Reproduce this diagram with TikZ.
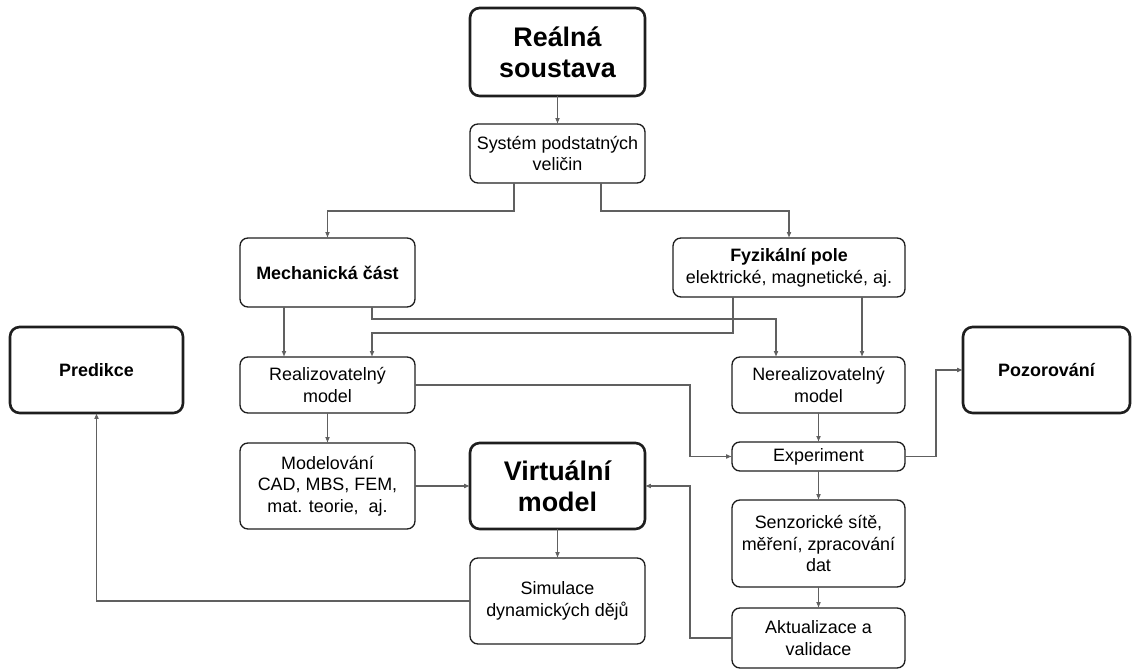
\documentclass[tikz,border=0pt]{standalone}
\usepackage{fontspec}
\setmainfont{Liberation Sans}
\usetikzlibrary{arrows.meta}
\definecolor{edge}{HTML}{1E1E1E}
\definecolor{wire}{HTML}{606060}
\begin{document}
\begin{tikzpicture}[x=0.02cm,y=-0.02cm,
  box/.style={draw=edge,line width=0.75pt,rounded corners=4.5pt,inner sep=0pt,outer sep=0pt,
    align=center,text=black,font=\fontsize{10.2}{12.3}\selectfont},
  bigbox/.style={box,line width=1.5pt,rounded corners=5.5pt},
  bigtext/.style={font=\fontsize{15.3}{17.8}\selectfont\bfseries},
  smalltitle/.style={font=\fontsize{10.2}{12.3}\selectfont\bfseries},
  conn/.style={draw=wire,line width=0.6pt,-{Latex[length=3.4pt,width=2.8pt]}}]
\useasboundingbox (0,0) rectangle (1133,671);

% boxes
\node[bigbox,bigtext,minimum width=3.5cm,minimum height=1.76cm] (real) at (557.5,52) {Reálná\\soustava};
\node[box,minimum width=3.5cm,minimum height=1.18cm] (sys) at (557.5,153.5) {Systém podstatných\\veličin};
\node[box,smalltitle,minimum width=3.5cm,minimum height=1.38cm] (mech) at (327.5,272.5) {Mechanická část};
\node[box,minimum width=4.64cm,minimum height=1.18cm] (fyz) at (789,267.5) {\textbf{Fyzikální pole}\\elektrické, magnetické, aj.};
\node[bigbox,smalltitle,minimum width=3.46cm,minimum height=1.72cm] (pred) at (96.5,370) {Predikce};
\node[box,minimum width=3.5cm,minimum height=1.12cm] (realiz) at (327.5,385) {Realizovatelný\\model};
\node[box,minimum width=3.46cm,minimum height=1.12cm] (nereal) at (818.5,385) {Nerealizovatelný\\model};
\node[bigbox,smalltitle,minimum width=3.34cm,minimum height=1.72cm] (poz) at (1046.5,370) {Pozorování};
\node[box,minimum width=3.46cm,minimum height=0.58cm] (exper) at (818.5,456.5) {Experiment};
\node[box,minimum width=3.5cm,minimum height=1.72cm] (model) at (327.5,486) {Modelování\\CAD, MBS, FEM,\\mat. teorie,~ aj.};
\node[bigbox,bigtext,minimum width=3.5cm,minimum height=1.72cm] (virt) at (557.5,486) {Virtuální\\model};
\node[box,minimum width=3.46cm,minimum height=1.74cm] (senz) at (818.5,543.5) {Senzorické sítě,\\měření, zpracování\\dat};
\node[box,minimum width=3.5cm,minimum height=1.72cm] (sim) at (557.5,601) {Simulace\\dynamických dějů};
\node[box,minimum width=3.46cm,minimum height=1.2cm] (akt) at (818.5,638) {Aktualizace a\\validace};

% connectors
\draw[conn] (real) -- (sys);
\draw[conn] (sys.south -| 514,0) -- (514,211) -| (mech.north);
\draw[conn] (sys.south -| 601,0) -- (601,211) -| (fyz.north);
\draw[conn] (mech.south -| 284,0) -- (realiz.north -| 284,0);
\draw[conn] (mech.south -| 372,0) |- (776,319) -- (nereal.north -| 776,0);
\draw[conn] (fyz.south -| 733,0) |- (372,333) -- (realiz.north -| 372,0);
\draw[conn] (fyz.south -| 862,0) -- (nereal.north -| 862,0);
\draw[conn] (realiz.east) -- (realiz.east -| 690,0) |- (exper.west);
\draw[conn] (realiz) -- (model);
\draw[conn] (nereal) -- (exper);
\draw[conn] (exper.east) -- (exper.east -| 936,0) |- (poz.west);
\draw[conn] (exper) -- (senz);
\draw[conn] (senz) -- (akt);
\draw[conn] (akt.west) -- (akt.west -| 690,0) |- (virt.east);
\draw[conn] (model) -- (virt);
\draw[conn] (virt) -- (sim);
\draw[conn] (sim.west) -| (pred.south);
\end{tikzpicture}
\end{document}
